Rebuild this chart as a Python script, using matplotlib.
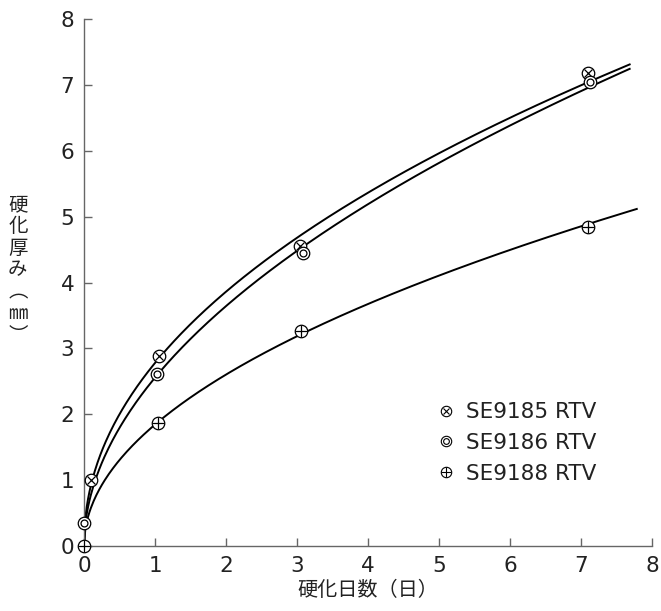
import numpy as np
import matplotlib
matplotlib.use("Agg")
import matplotlib.pyplot as plt
from matplotlib.lines import Line2D
from matplotlib.legend_handler import HandlerTuple

plt.rcParams['font.family'] = ['DejaVu Sans', 'Noto Sans CJK JP']

# === データ ===
series_names = ["SE9185 RTV", "SE9186 RTV", "SE9188 RTV"]
days_9185 = [0.1, 1.05, 3.04, 7.1]
thick_9185 = [1.0, 2.89, 4.55, 7.18]
days_9186 = [0.0, 1.03, 3.08, 7.12]
thick_9186 = [0.36, 2.62, 4.45, 7.05]
days_9188 = [0.0, 1.04, 3.05, 7.1]
thick_9188 = [0.0, 1.87, 3.26, 4.85]
curve_end = [7.68, 7.68, 7.78]

GRIS = "#666666"
JP = ['Noto Sans CJK JP', 'DejaVu Sans']

# === 近似曲線 y = a * x^b (x>=0.5 の点で当てはめ) ===
def ajuste(x, y, x_fin):
    x = np.asarray(x); y = np.asarray(y)
    m = x >= 0.5
    b, ln_a = np.polyfit(np.log(x[m]), np.log(y[m]), 1)
    xs = np.linspace(0, x_fin, 400)
    return xs, np.exp(ln_a) * xs ** b

fig = plt.figure(figsize=(6.61, 6.11), dpi=100)
ax = fig.add_axes([0.127, 0.106, 0.860, 0.863])

datos = [(days_9185, thick_9185), (days_9186, thick_9186), (days_9188, thick_9188)]
for (x, y), xf in zip(datos, curve_end):
    xs, ys = ajuste(x, y, xf)
    ax.plot(xs, ys, color="black", lw=1.4, zorder=2)

# === マーカー ===
def marcador(x, y, tipo, size):
    base = dict(linestyle="none", color="black", zorder=4, clip_on=False)
    ax.plot(x, y, marker="o", ms=size, mfc="white", mec="black", mew=0.9, **base)
    if tipo == "x":
        ax.plot(x, y, marker="x", ms=size * 0.62, mew=0.9, **base)
    elif tipo == "+":
        ax.plot(x, y, marker="+", ms=size * 0.95, mew=0.9, **base)
    else:
        ax.plot(x, y, marker="o", ms=size * 0.55, mfc="none", mec="black", mew=0.9, **base)

marcador(days_9185, thick_9185, "x", 9)
marcador(days_9186, thick_9186, "o", 9)
marcador(days_9188, thick_9188, "+", 9)

def handle(tipo, size=7.5):
    h = [Line2D([], [], marker="o", ms=size, mfc="white", mec="black", mew=0.8, ls="none")]
    if tipo == "x":
        h.append(Line2D([], [], marker="x", ms=size * 0.62, color="black", mew=0.8, ls="none"))
    elif tipo == "+":
        h.append(Line2D([], [], marker="+", ms=size * 0.95, color="black", mew=0.8, ls="none"))
    else:
        h.append(Line2D([], [], marker="o", ms=size * 0.55, mfc="none", mec="black", mew=0.8, ls="none"))
    return tuple(h)

leg = ax.legend([handle("x"), handle("o"), handle("+")], series_names,
                handler_map={tuple: HandlerTuple(ndivide=1)},
                loc="upper left", bbox_to_anchor=(0.59, 0.31), frameon=False,
                fontsize=15.5, handlelength=0.7, handletextpad=0.55, labelspacing=0.5)
for t in leg.get_texts():
    t.set_color("#222222")

# === 軸 ===
ax.set_xlim(0, 8)
ax.set_ylim(0, 8)
ax.set_xticks(range(0, 9))
ax.set_yticks(range(0, 9))
for s in ["top", "right"]:
    ax.spines[s].set_visible(False)
for s in ["left", "bottom"]:
    ax.spines[s].set_color(GRIS)
    ax.spines[s].set_linewidth(1.0)
ax.tick_params(direction="in", length=6, width=1.0, color=GRIS, labelsize=15.5,
               labelcolor="#222222", pad=7)

ax.set_xlabel("硬化日数（日）", fontsize=14.5, labelpad=3, family=JP, color="#222222")
fig.text(0.027, 0.558, "\n".join("硬化厚み︵㎜︶"), fontsize=14, ha="center", va="center",
         linespacing=1.05, family=JP, color="#222222")

fig.savefig("out.png", dpi=100)
